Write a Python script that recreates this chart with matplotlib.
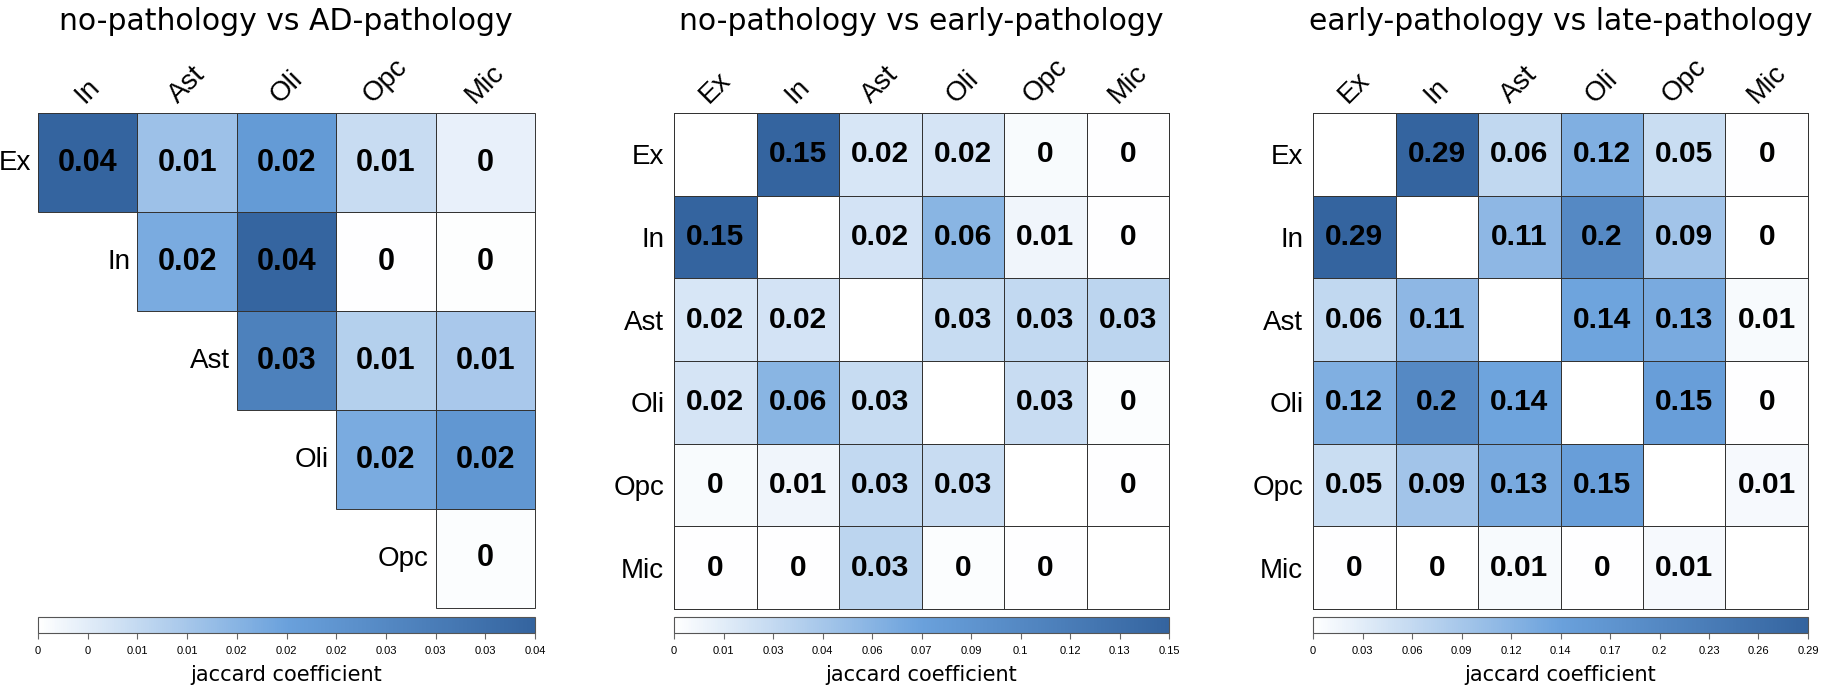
import matplotlib
matplotlib.use("Agg")
import matplotlib.pyplot as plt
import numpy as np
from matplotlib.colors import LinearSegmentedColormap
from matplotlib.patches import Rectangle

# cell types
ad_rows = ["Ex", "In", "Ast", "Oli", "Opc"]
ad_cols = ["In", "Ast", "Oli", "Opc", "Mic"]
all_types = ["Ex", "In", "Ast", "Oli", "Opc", "Mic"]

# upper triangle values, one list per row
ad_vals = [
    [0.038, 0.0125, 0.021, 0.007, 0.003],
    [0.017, 0.0375, 0.0002, 0.0003],
    [0.029, 0.0095, 0.011],
    [0.017, 0.022],
    [0.0005],
]
early_vals = [
    [0.147, 0.020, 0.021, 0.004, 0.001],
    [0.022, 0.058, 0.008, 0.001],
    [0.028, 0.030, 0.033],
    [0.027, 0.002],
    [0.001],
]
late_vals = [
    [0.288, 0.060, 0.123, 0.052, 0.002],
    [0.110, 0.200, 0.090, 0.001],
    [0.140, 0.130, 0.008],
    [0.150, 0.002],
    [0.009],
]

titles = ["no-pathology vs AD-pathology",
          "no-pathology vs early-pathology",
          "early-pathology vs late-pathology"]

cmap = LinearSegmentedColormap.from_list(
    "jac", [(0, "#ffffff"), (0.5, "#6aa1dc"), (1, "#34649f")])

W, H = 1822, 696
fig = plt.figure(figsize=(W / 100, H / 100), dpi=100)

label_font = "Liberation Sans"
edge = "#333333"
lw = 0.7


def fmt(v):
    return "{:g}".format(round(v, 2))


def add_colorbar(mesh, x0, x1, vmax):
    cax = fig.add_axes([x0 / W, 1 - 633 / H, (x1 - x0) / W, 16 / H])
    cb = fig.colorbar(mesh, cax=cax, orientation="horizontal")
    ticks = np.linspace(0, vmax, 11)
    cb.set_ticks(ticks)
    cb.set_ticklabels([fmt(t) for t in ticks])
    cb.outline.set_edgecolor("#555555")
    cb.outline.set_linewidth(0.8)
    cax.tick_params(length=4, width=0.8, color="#666666", pad=5)
    for t in cax.get_xticklabels():
        t.set_fontfamily(label_font)
        t.set_fontsize(8)
    cax.set_xlabel("jaccard coefficient", fontsize=15, labelpad=7)


def style_axes(ax):
    for s in ax.spines.values():
        s.set_visible(False)
    ax.xaxis.tick_top()
    ax.tick_params(length=0)


# ---- panel 1: upper triangle ----
n = len(ad_rows)
m1 = np.full((n, n), np.nan)
for i, row in enumerate(ad_vals):
    m1[i, i:] = row
mask1 = np.ma.masked_invalid(m1)
vmax1 = np.nanmax(m1)

ax1 = fig.add_axes([38 / W, 1 - 608 / H, 497 / W, 495 / H])
mesh1 = ax1.pcolormesh(mask1, cmap=cmap, vmin=0, vmax=vmax1)
ax1.set_xlim(0, n)
ax1.set_ylim(n, 0)
style_axes(ax1)
ax1.set_xticks(np.arange(n) + 0.5)
ax1.set_xticklabels(ad_cols, rotation=45, ha="center",
                    fontsize=20, fontfamily=label_font)
ax1.set_yticks([])
for i in range(n):
    ax1.text(i - 0.07, i + 0.5, ad_rows[i], ha="right", va="center",
             fontsize=20, fontfamily=label_font)
    for j in range(i, n):
        ax1.add_patch(Rectangle((j, i), 1, 1, fill=False, clip_on=False,
                                edgecolor=edge, linewidth=lw))
        ax1.text(j + 0.5, i + 0.5, fmt(m1[i, j]), ha="center", va="center",
                 fontsize=22, fontweight="bold", fontfamily=label_font)
add_colorbar(mesh1, 38, 535, vmax1)
fig.text(286 / W, 1 - 22 / H, titles[0], ha="center", va="center",
         fontsize=21.5)


# ---- panels 2 and 3: full symmetric ----
def full_panel(vals, x0, x1, title):
    k = len(all_types)
    m = np.zeros((k, k))
    for i, row in enumerate(vals):
        m[i, i + 1:] = row
        m[i + 1:, i] = row
    vmax = m.max()
    ax = fig.add_axes([x0 / W, 1 - 609 / H, (x1 - x0) / W, 496 / H])
    mesh = ax.pcolormesh(m, cmap=cmap, vmin=0, vmax=vmax,
                         edgecolors=edge, linewidth=lw)
    mesh.set_clip_on(False)
    ax.set_xlim(0, k)
    ax.set_ylim(k, 0)
    style_axes(ax)
    ax.set_xticks(np.arange(k) + 0.5)
    ax.set_xticklabels(all_types, rotation=45, ha="center",
                       fontsize=20, fontfamily=label_font)
    ax.set_yticks(np.arange(k) + 0.5)
    ax.set_yticklabels(all_types, fontsize=20, fontfamily=label_font)
    ax.tick_params(axis="y", pad=7)
    for i in range(k):
        for j in range(k):
            if i != j:
                ax.text(j + 0.5, i + 0.5, fmt(m[i, j]), ha="center",
                        va="center", fontsize=21.5, fontweight="bold",
                        fontfamily=label_font)
    add_colorbar(mesh, x0, x1, vmax)
    fig.text((x0 + x1) / 2 / W, 1 - 22 / H, title, ha="center",
             va="center", fontsize=21.5)


full_panel(early_vals, 674, 1169, titles[1])
full_panel(late_vals, 1313, 1808, titles[2])

fig.savefig("out.png", dpi=100)
